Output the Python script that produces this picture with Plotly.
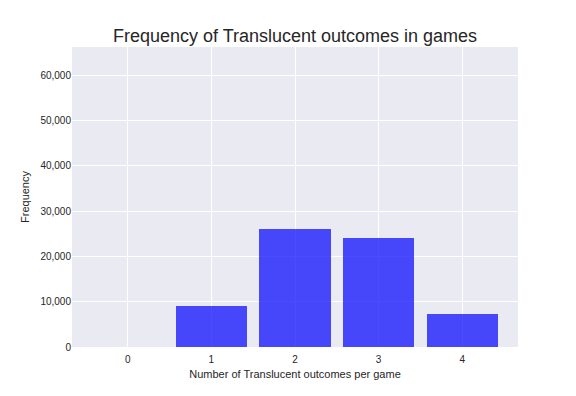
import plotly.graph_objects as go

categories = [0, 1, 2, 3, 4]
frequencies = [0, 8970, 25960, 23980, 7210]
y_ticks = [0, 10000, 20000, 30000, 40000, 50000, 60000]
y_tick_labels = ["0", "10,000", "20,000", "30,000", "40,000", "50,000", "60,000"]

fig = go.Figure()
fig.add_trace(go.Bar(
    x=categories, y=frequencies, width=0.85,
    marker=dict(color="rgba(0,0,255,0.7)", line=dict(width=0)),
))

fig.update_layout(
    width=576, height=396,
    margin=dict(l=64, r=66, t=39, b=57),
    paper_bgcolor="white", plot_bgcolor="#EAEAF2",
    font=dict(family="Liberation Sans, Arial, sans-serif", color="#262626", size=10),
    title=dict(text="Frequency of Translucent outcomes in games", x=(295 - 8) / 576, xanchor="center",
               y=1 - 28/396, yanchor="middle", font=dict(size=18, color="#262626")),
    showlegend=False,
    bargap=0,
)
fig.update_xaxes(range=[-0.6675, 4.6675], tickvals=categories, ticktext=[str(c) for c in categories],
                 showgrid=True, gridcolor="white", gridwidth=1, zeroline=False,
                 ticks="outside", ticklen=3, tickcolor="rgba(0,0,0,0)",
                 title=dict(text="Number of Translucent outcomes per game", font=dict(size=11), standoff=6),
                 showline=False)
fig.update_yaxes(range=[0, 66200], tickvals=y_ticks, ticktext=y_tick_labels,
                 showgrid=True, gridcolor="white", gridwidth=1, zeroline=False,
                 ticks="", title=dict(text="Frequency", font=dict(size=11), standoff=8),
                 showline=False)

fig.write_html("out.html")
